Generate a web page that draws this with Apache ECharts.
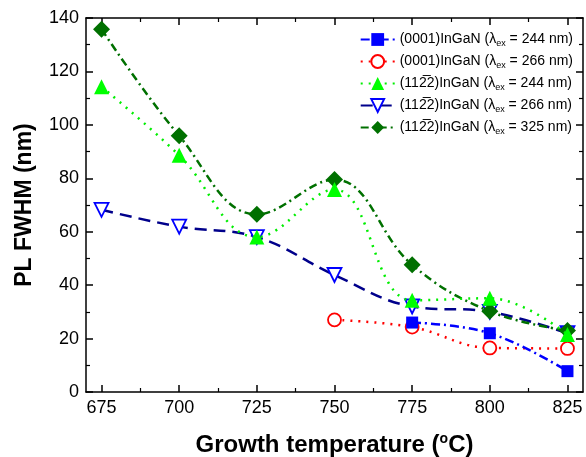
<!DOCTYPE html>
<html><head><meta charset="utf-8">
<script src="https://cdn.jsdelivr.net/npm/echarts@6/dist/echarts.min.js"></script>
<style>html,body{margin:0;padding:0;background:#fff}#c{width:586px;height:457px}</style>
</head><body><div id="c"></div>
<script>
const temps = [675, 700, 725, 750, 775, 800, 825];
const xTicks = [675, 700, 725, 750, 775, 800, 825];
const xMinorTicks = [687.5, 712.5, 737.5, 762.5, 787.5, 812.5];
const s0001_244 = [null, null, null, null, 26, 22, 7.8];
const s0001_266 = [null, null, null, 27, 24.3, 16.5, 16.3];
const s1122_244 = [114.3, 88.6, 58, 75.8, 34.3, 35.1, 21.5];
const s1122_266 = [68.2, 61.9, 58, 43.8, 32, 30, 22];
const s1122_325 = [135.8, 95.9, 66.5, 79.5, 47.6, 30.2, 23];
const seriesNames = [
  '(0001)InGaN (λ{s|ex} = 244 nm)',
  '(0001)InGaN (λ{s|ex} = 266 nm)',
  '(112\u03052)InGaN (λ{s|ex} = 244 nm)',
  '(112\u03052)InGaN (λ{s|ex} = 266 nm)',
  '(112\u03052)InGaN (λ{s|ex} = 325 nm)'
];

function pts(arr){ const r=[]; arr.forEach((v,i)=>{ if(v!==null) r.push([temps[i], v]); }); return r; }

const chart = echarts.init(document.getElementById('c'), null, {renderer:'canvas'});
const font = 'Liberation Sans, Arial, sans-serif';
const axisLine = {show:true, lineStyle:{color:'#000', width:1.5}};
const sm = 0.4;
chart.setOption({
  animation:false,
  backgroundColor:'#fff',
  grid:{left:86, right:3, top:18, bottom:65, containLabel:false, outerBoundsMode:'none'},
  legend:{
    orient:'vertical', right:8, top:26, itemGap:5, itemWidth:34, itemHeight:16,
    data: seriesNames,
    formatter: n => n,
    textStyle:{fontFamily:font, fontSize:14, color:'#000', lineHeight:17,
      rich:{s:{fontSize:9, fontFamily:font, color:'#000', verticalAlign:'bottom', lineHeight:12, padding:[8,0,0,0]}}}
  },
  xAxis:[
    {type:'value', min:670, max:830, position:'bottom',
     axisLine, splitLine:{show:false},
     axisTick:{show:true, inside:true, length:7, customValues:xTicks, lineStyle:{color:'#000',width:1.5}},
     axisLabel:{show:true, customValues:xTicks, fontFamily:font, fontSize:18, color:'#000', margin:7},
     name:'Growth temperature ({sup|o}C)', nameLocation:'middle', nameGap:40,
     nameTextStyle:{fontFamily:font, fontSize:24, fontWeight:'bold', color:'#000',
       rich:{sup:{fontFamily:font, fontSize:14, fontWeight:'bold', color:'#000', verticalAlign:'top', padding:[0,0,12,0]}}}},
    {type:'value', min:670, max:830, position:'bottom',
     axisLine:{show:false}, splitLine:{show:false},
     axisTick:{show:true, inside:true, length:4, customValues:xMinorTicks, lineStyle:{color:'#000',width:1.2}},
     axisLabel:{show:false}},
    {type:'value', min:670, max:830, position:'top',
     axisLine, splitLine:{show:false},
     axisTick:{show:true, inside:true, length:7, customValues:xTicks, lineStyle:{color:'#000',width:1.5}},
     axisLabel:{show:false}},
    {type:'value', min:670, max:830, position:'top',
     axisLine:{show:false}, splitLine:{show:false},
     axisTick:{show:true, inside:true, length:4, customValues:xMinorTicks, lineStyle:{color:'#000',width:1.2}},
     axisLabel:{show:false}}
  ],
  yAxis:[
    {type:'value', min:0, max:140, interval:20, position:'left',
     axisLine, splitLine:{show:false},
     axisTick:{show:true, inside:true, length:7, lineStyle:{color:'#000',width:1.5}},
     minorTick:{show:true, splitNumber:2, length:4, lineStyle:{color:'#000',width:1.2}},
     axisLabel:{fontFamily:font, fontSize:18, color:'#000', margin:7},
     name:'PL FWHM (nm)', nameLocation:'middle', nameGap:50, nameRotate:90,
     nameTextStyle:{fontFamily:font, fontSize:23, fontWeight:'bold', color:'#000'}},
    {type:'value', min:0, max:140, interval:20, position:'right',
     axisLine, splitLine:{show:false},
     axisTick:{show:true, inside:true, length:7, lineStyle:{color:'#000',width:1.5}},
     minorTick:{show:true, splitNumber:2, length:4, lineStyle:{color:'#000',width:1.2}},
     axisLabel:{show:false}}
  ],
  series:[
    {name:seriesNames[0], type:'line', data:pts(s0001_244), smooth:sm,
     symbol:'rect', symbolSize:12, itemStyle:{color:'#0000ff'},
     lineStyle:{color:'#0000ff', width:2.5, type:[9,4,2,4]}, z:5},
    {name:seriesNames[1], type:'line', data:pts(s0001_266), smooth:sm,
     symbol:'circle', symbolSize:13, itemStyle:{color:'#ffffff', borderColor:'#ff0000', borderWidth:1.8},
     lineStyle:{color:'#ff0000', width:2.5, type:[2,6]}, z:4},
    {name:seriesNames[2], type:'line', data:pts(s1122_244), smooth:sm,
     symbol:'triangle', symbolSize:15, itemStyle:{color:'#00ff00'},
     lineStyle:{color:'#00ee00', width:2.5, type:[2,6]}, z:6},
    {name:seriesNames[3], type:'line', data:pts(s1122_266), smooth:sm,
     symbol:'triangle', symbolRotate:180, symbolSize:14, itemStyle:{color:'#ffffff', borderColor:'#0000ff', borderWidth:1.8},
     lineStyle:{color:'#00008b', width:2.5, type:[12,7]}, z:3},
    {name:seriesNames[4], type:'line', data:pts(s1122_325), smooth:sm,
     symbol:'diamond', symbolSize:17, itemStyle:{color:'#007000'},
     lineStyle:{color:'#007000', width:2.5, type:[8,4,2,4]}, z:5}
  ]
});
</script></body></html>
